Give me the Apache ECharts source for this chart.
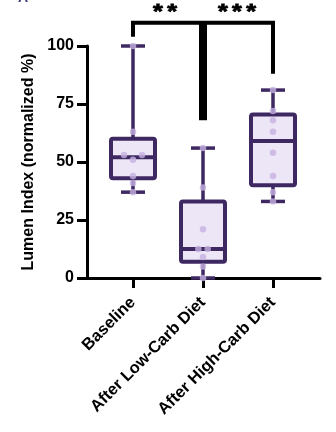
<!DOCTYPE html>
<html><head><meta charset="utf-8">
<script src="https://cdn.jsdelivr.net/npm/echarts@6/dist/echarts.min.js"></script>
<style>html,body{margin:0;padding:0;background:#fff}#c{width:336px;height:432px}</style>
</head><body><div id="c"></div>
<script>
const categories = ['Baseline', 'After Low-Carb Diet', 'After High-Carb Diet'];
const yTickValues = [0, 25, 50, 75, 100];
// individual data points per group
const baselinePoints = [100, 63, 53, 53, 51, 44, 41, 37];
const lowCarbPoints = [56, 39, 21, 12.5, 12.5, 9, 5, 0];
const highCarbPoints = [81, 72, 68, 63, 54, 44, 37, 33];
// box statistics: [min, q1, median, q3, max]
const baselineBox = [37, 43, 52, 60, 100];
const lowCarbBox = [0, 7, 12.5, 33, 56];
const highCarbBox = [33, 40, 59, 70.5, 81];
// significance annotations
const sigLabels = ['**', '***'];
const bracketTop = 110;          // value of horizontal bracket
const bracketLegEnds = [104, 68, 88]; // lower ends of legs at each category

// styling (not data)
const pointSpread = [[0,0,-9,9,0,0,0,0],[0,0,0,-4.7,4.7,0,0,0],[0,0,0,0,0,0,0,0]];
const DARK = '#3e2862', FILL = '#ede6f6', DOT = '#c7b2e2';

const chart = echarts.init(document.getElementById('c'));
const groups = [baselinePoints, lowCarbPoints, highCarbPoints];
const boxes = [baselineBox, lowCarbBox, highCarbBox];

const pointData = [];
groups.forEach((arr, gi) => arr.forEach((v, k) => {
  pointData.push({ value: [gi, v], symbolOffset: [pointSpread[gi][k], 0] });
}));

function renderBox(params, api) {
  const i = api.value(0);
  const lo = api.coord([i, api.value(1)]);
  const q1 = api.coord([i, api.value(2)]);
  const md = api.coord([i, api.value(3)]);
  const q3 = api.coord([i, api.value(4)]);
  const hi = api.coord([i, api.value(5)]);
  const x = lo[0], bw = 44, cw = 24;
  const ls = { stroke: DARK, lineWidth: 3.5 };
  return { type: 'group', children: [
    { type: 'line', shape: { x1: x, y1: q3[1], x2: x, y2: hi[1] }, style: ls },
    { type: 'line', shape: { x1: x, y1: q1[1], x2: x, y2: lo[1] }, style: ls },
    { type: 'line', shape: { x1: x - cw/2, y1: hi[1], x2: x + cw/2, y2: hi[1] }, style: ls },
    { type: 'line', shape: { x1: x - cw/2, y1: lo[1], x2: x + cw/2, y2: lo[1] }, style: ls },
    { type: 'rect', shape: { x: x - bw/2, y: q3[1], width: bw, height: q1[1] - q3[1], r: 2 },
      style: { fill: FILL, stroke: DARK, lineWidth: 4 } },
    { type: 'line', shape: { x1: x - bw/2, y1: md[1], x2: x + bw/2, y2: md[1] }, style: { stroke: DARK, lineWidth: 4 } }
  ]};
}

function starTexts(label, cx, cy) {
  const n = label.length, gap = 14.2;
  const out = [];
  for (let k = 0; k < n; k++) {
    out.push({ type: 'text', x: cx + (k - (n - 1) / 2) * gap, y: cy, scaleX: 1.2,
      style: { text: label[k], fill: '#000', stroke: '#000', lineWidth: 0.8,
        font: 'bold 21px "Liberation Sans", Arial', align: 'center', verticalAlign: 'middle' } });
  }
  return out;
}

function renderBracket(params, api) {
  const top0 = api.coord([0, bracketTop]);
  const top1 = api.coord([1, bracketTop]);
  const top2 = api.coord([2, bracketTop]);
  const e0 = api.coord([0, bracketLegEnds[0]]);
  const e1 = api.coord([1, bracketLegEnds[1]]);
  const e2 = api.coord([2, bracketLegEnds[2]]);
  const ls = { stroke: '#000', lineWidth: 4 };
  return { type: 'group', children: [
    { type: 'polyline', shape: { points: [e0, top0, top2, e2] }, style: Object.assign({ fill: null, lineJoin: 'miter' }, ls) },
    { type: 'line', shape: { x1: top1[0], y1: top1[1], x2: e1[0], y2: e1[1] }, style: { stroke: '#000', lineWidth: 8 } }
  ].concat(starTexts(sigLabels[0], (top0[0] + top1[0]) / 2 - 3, top0[1] - 11))
   .concat(starTexts(sigLabels[1], (top1[0] + top2[0]) / 2 - 1, top0[1] - 11)) };
}

chart.setOption({
  animation: false,
  textStyle: { fontFamily: '"Liberation Sans", Arial, sans-serif' },
  graphic: [{ type: 'text', left: 18, top: -9, style: { text: 'A', font: 'bold 14px "Liberation Sans", Arial', fill: '#383c78' } }],
  grid: [
    { left: 87, right: 16, top: 46, bottom: 154 },
    { left: 98, right: 28, top: 46, bottom: 154 }
  ],
  xAxis: [
    { gridIndex: 0, type: 'value', min: 0, max: 1,
      axisLine: { show: true, lineStyle: { color: '#000', width: 3 } },
      axisTick: { show: false }, axisLabel: { show: false }, splitLine: { show: false } },
    { gridIndex: 1, type: 'category', data: categories,
      axisLine: { show: false },
      axisTick: { show: true, alignWithLabel: true, length: 10, lineStyle: { color: '#000', width: 3 } },
      axisLabel: { rotate: 45, margin: 22, color: '#000', fontWeight: 'bold', fontSize: 16.5, fontFamily: '"Liberation Sans", Arial' } }
  ],
  yAxis: [
    { gridIndex: 0, type: 'value', min: 0, max: 100, interval: 25,
      name: 'Lumen Index (normalized %)', nameLocation: 'middle', nameGap: 50,
      nameTextStyle: { color: '#000', fontWeight: 'bold', fontSize: 16, fontFamily: '"Liberation Sans", Arial' },
      axisLine: { show: true, lineStyle: { color: '#000', width: 3 } },
      axisTick: { show: true, length: 10, lineStyle: { color: '#000', width: 3 } },
      axisLabel: { margin: 13, color: '#000', fontWeight: 'bold', fontSize: 16, fontFamily: '"Liberation Sans", Arial',
        formatter: v => yTickValues.includes(v) ? String(v) : '' },
      splitLine: { show: false } },
    { gridIndex: 1, type: 'value', min: 0, max: 100, interval: 25, show: false, splitLine: { show: false } }
  ],
  series: [
    { type: 'custom', xAxisIndex: 1, yAxisIndex: 1, clip: false, z: 3,
      data: boxes.map((b, i) => [i].concat(b)), renderItem: renderBox },
    { type: 'scatter', xAxisIndex: 1, yAxisIndex: 1, clip: false, z: 5, symbolSize: 6.5,
      itemStyle: { color: DOT }, data: pointData },
    { type: 'custom', xAxisIndex: 1, yAxisIndex: 1, clip: false, z: 4,
      data: [[0]], renderItem: renderBracket }
  ]
});
</script></body></html>
